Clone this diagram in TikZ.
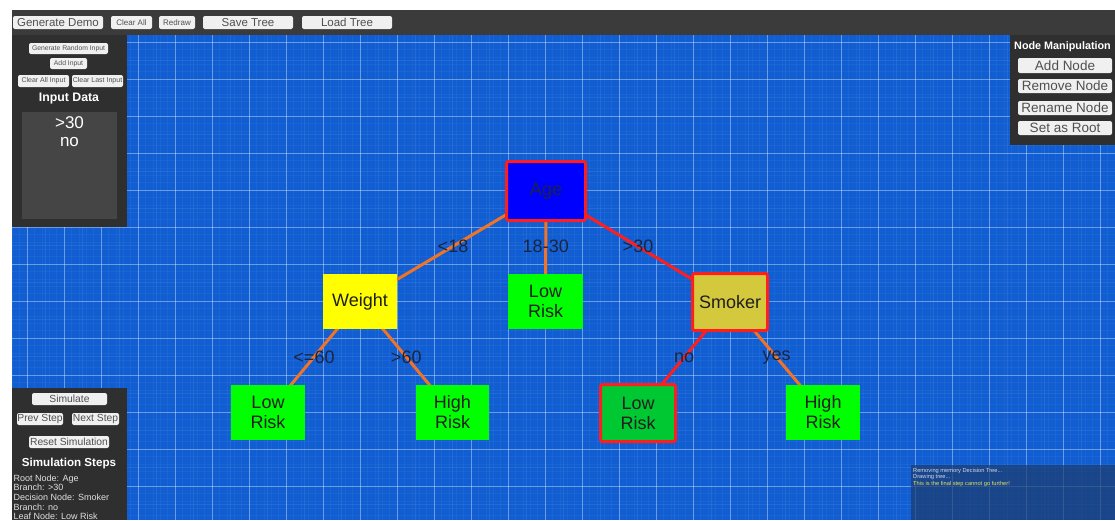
\documentclass[tikz,border=0pt]{standalone}
\usepackage{fontspec}
\setmainfont{Liberation Sans}
\usetikzlibrary{positioning}
\pgfdeclarelayer{background}
\pgfdeclarelayer{edges}
\pgfsetlayers{background,edges,main}

\definecolor{bgblue}{HTML}{105ED2}
\definecolor{barcol}{HTML}{3B3B3B}
\definecolor{panelcol}{HTML}{2F2F2F}
\definecolor{boxcol}{HTML}{454545}
\definecolor{btnfill}{HTML}{F0F0F0}
\definecolor{btntext}{HTML}{505050}
\definecolor{edgeorange}{HTML}{F07328}
\definecolor{edgered}{HTML}{FF1E1E}
\definecolor{labeltext}{HTML}{1B2540}
\definecolor{nodetext}{HTML}{1E1E1E}
\definecolor{agefill}{HTML}{0000FF}
\definecolor{weightfill}{HTML}{FFFF00}
\definecolor{leaffill}{HTML}{00FF00}
\definecolor{leafhot}{HTML}{00C832}
\definecolor{smokerfill}{HTML}{D4C83C}
\definecolor{logfill}{HTML}{1E3C6C}
\definecolor{logtext}{HTML}{D0D8E8}
\definecolor{logwarn}{HTML}{E4E060}

\newcommand{\fs}[1]{\fontsize{#1}{#1}\selectfont}

\tikzset{
  btn/.style={fill=btnfill, rounded corners=2pt, inner sep=0pt, text=btntext, anchor=center},
  treebox/.style={rectangle, inner sep=0pt, text=nodetext, align=center,
    font=\fontsize{18}{20}\selectfont},
  hotbox/.style={treebox, draw=edgered, line width=3pt, rounded corners=2pt},
  orangeedge/.style={draw=edgeorange, line width=3pt},
  rededge/.style={draw=edgered, line width=3pt},
  edgelabel/.style={text=labeltext, font=\fontsize{18}{18}\selectfont, inner sep=0pt},
  paneltitle/.style={text=white, font=\bfseries, inner sep=0pt},
}

\begin{document}
\begin{tikzpicture}[x=1pt, y=-1pt]
\useasboundingbox (0,0) rectangle (1115,520);

% canvas and blueprint grid
\begin{pgfonlayer}{background}
  \fill[white] (0,0) rectangle (1115,520);
  \fill[bgblue] (12,35) rectangle (1115,520);
  \begin{scope}
    \clip (12,35) rectangle (1115,520);
    \foreach \i in {0,...,155} {
      \draw[white, opacity=0.045, line width=0.6pt] ({-10+7.4*\i},35) -- ++(0,485);
    }
    \foreach \i in {0,...,70} {
      \draw[white, opacity=0.045, line width=0.6pt] (12,{5+7.4*\i}) -- ++(1103,0);
    }
    \foreach \i in {0,...,62} {
      \draw[white, opacity=0.08, line width=0.7pt] ({-10+18.5*\i},35) -- ++(0,485);
    }
    \foreach \i in {0,...,28} {
      \draw[white, opacity=0.08, line width=0.7pt] (12,{5+18.5*\i}) -- ++(1103,0);
    }
    \foreach \i in {0,...,31} {
      \draw[white, opacity=0.3, line width=1pt] ({-10+37*\i},35) -- ++(0,485);
    }
    \foreach \i in {0,...,14} {
      \draw[white, opacity=0.3, line width=1pt] (12,{5+37*\i}) -- ++(1103,0);
    }
  \end{scope}
\end{pgfonlayer}

% top toolbar
\fill[barcol] (12,10) rectangle (1115,35);
\node[btn, minimum width=90, minimum height=13, font=\fs{11.5}] (gendemo) at (58,22.5) {Generate Demo};
\node[btn, minimum width=41, minimum height=13, font=\fs{8}] (clearall) at (131.5,22.5) {Clear All};
\node[btn, minimum width=36, minimum height=13, font=\fs{8}] (redraw) at (177,22.5) {Redraw};
\node[btn, minimum width=90, minimum height=13, font=\fs{11.5}] (savetree) at (248,22.5) {Save Tree};
\node[btn, minimum width=90, minimum height=13, font=\fs{11.5}] (loadtree) at (347,22.5) {Load Tree};

% input panel
\fill[panelcol] (12,35) rectangle (127,227);
\node[btn, minimum width=79, minimum height=11, font=\fs{6.8}] (genrand) at (68.5,48.5) {Generate Random Input};
\node[btn, minimum width=37, minimum height=11, font=\fs{6.8}] (addinput) at (68.5,63.5) {Add Input};
\node[btn, minimum width=51, minimum height=12, font=\fs{7}] (clearallin) at (43.5,81) {Clear All Input};
\node[btn, minimum width=51, minimum height=12, font=\fs{7}] (clearlast) at (97.5,81) {Clear Last Input};
\node[paneltitle, font=\bfseries\fs{12.3}] (inputtitle) at (69,99) {Input Data};
\fill[boxcol] (22,112) rectangle (117,219);
\node[text=white, font=\fs{17}, inner sep=0pt] (in1) at (69.5,123) {>30};
\node[text=white, font=\fs{17}, inner sep=0pt] (in2) at (69.5,142) {no};

% node manipulation panel
\fill[panelcol] (1010,35) rectangle (1115,145);
\node[paneltitle, font=\bfseries\fs{10.8}, anchor=west] (nmtitle) at (1014,47) {Node Manipulation};
\node[btn, minimum width=94, minimum height=15, font=\fs{13.5}] (addnode) at (1065,65.5) {Add Node};
\node[btn, minimum width=94, minimum height=14, font=\fs{13.5}] (removenode) at (1065,86) {Remove Node};
\node[btn, minimum width=94, minimum height=14, font=\fs{13.5}] (renamenode) at (1065,108) {Rename Node};
\node[btn, minimum width=94, minimum height=14, font=\fs{13.5}] (setroot) at (1065,128) {Set as Root};

% simulation panel
\fill[panelcol] (12,388) rectangle (127,520);
\node[btn, minimum width=75, minimum height=12, font=\fs{10.3}] (simulate) at (69.5,399) {Simulate};
\node[btn, minimum width=46, minimum height=12, font=\fs{10.3}] (prevstep) at (40,419) {Prev Step};
\node[btn, minimum width=47, minimum height=12, font=\fs{10.3}] (nextstep) at (95.5,419) {Next Step};
\node[btn, minimum width=80, minimum height=12, font=\fs{10.3}] (resetsim) at (69,442) {Reset Simulation};
\node[paneltitle, font=\bfseries\fs{11.6}] (simtitle) at (69,463) {Simulation Steps};
\node[text=white!88!black, font=\fontsize{9}{9.6}\selectfont, align=left, anchor=north west, inner sep=0pt]
  (steps) at (13.5,474.5) {Root Node: Age\\Branch: >30\\Decision Node: Smoker\\Branch: no\\Leaf Node: Low Risk};

% log console
\fill[logfill, opacity=0.7] (911,465) rectangle (1115,520);
\node[text=logtext, font=\fontsize{5.7}{6.5}\selectfont, align=left, anchor=north west, inner sep=0pt]
  (log) at (913,468) {Removing memory Decision Tree...\\Drawing tree...\\\textcolor{logwarn}{This is the final step cannot go further!}};

% decision tree nodes
\node[hotbox, fill=agefill, minimum width=79, minimum height=59, text=labeltext] (age) at (546,191) {Age};
\node[treebox, fill=weightfill, minimum width=74, minimum height=55] (weight) at (360,301.5) {Weight};
\node[treebox, fill=leaffill, minimum width=75, minimum height=55] (lowmid) at (545.5,301.5) {Low\\Risk};
\node[hotbox, fill=smokerfill, minimum width=75, minimum height=57] (smoker) at (730,302) {Smoker};
\node[treebox, fill=leaffill, minimum width=74, minimum height=55] (lowleft) at (268,412.5) {Low\\Risk};
\node[treebox, fill=leaffill, minimum width=73, minimum height=55] (highleft) at (452.5,412.5) {High\\Risk};
\node[hotbox, fill=leafhot, minimum width=75, minimum height=57] (lowright) at (638,413) {Low\\Risk};
\node[treebox, fill=leaffill, minimum width=74, minimum height=55] (highright) at (823,412.5) {High\\Risk};

% branches, centre to centre beneath the boxes
\begin{pgfonlayer}{edges}
  \draw[orangeedge] (age.center) -- node[edgelabel] {<18} (weight.center);
  \draw[orangeedge] (age.center) -- node[edgelabel] {18-30} (lowmid.center);
  \draw[rededge] (age.center) -- node[edgelabel] {>30} (smoker.center);
  \draw[orangeedge] (weight.center) -- node[edgelabel] {<=60} (lowleft.center);
  \draw[orangeedge] (weight.center) -- node[edgelabel] {>60} (highleft.center);
  \draw[rededge] (smoker.center) -- node[edgelabel] {no} (lowright.center);
  \draw[orangeedge] (smoker.center) -- node[edgelabel] {yes} (highright.center);
\end{pgfonlayer}
\end{tikzpicture}
\end{document}
